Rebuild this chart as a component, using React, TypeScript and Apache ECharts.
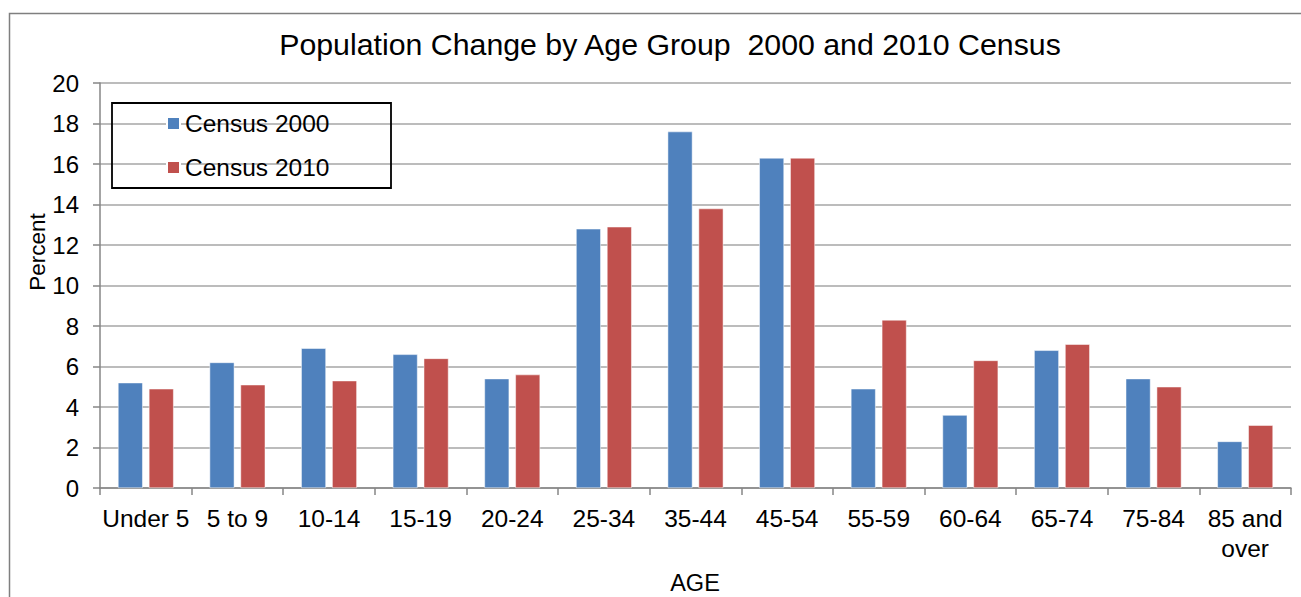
import React, { useEffect, useRef } from "react";
import * as echarts from "echarts";

const categories = ["Under 5", "5 to 9", "10-14", "15-19", "20-24", "25-34", "35-44", "45-54", "55-59", "60-64", "65-74", "75-84", "85 and\nover"];
const census2000 = [5.2, 6.2, 6.9, 6.6, 5.4, 12.8, 17.6, 16.3, 4.9, 3.6, 6.8, 5.4, 2.3];
const census2010 = [4.9, 5.1, 5.3, 6.4, 5.6, 12.9, 13.8, 16.3, 8.3, 6.3, 7.1, 5.0, 3.1];
const seriesNames = ["Census 2000", "Census 2010"];
const titleText = "Population Change by Age Group  2000 and 2010 Census";

const FONT = "'Liberation Sans', Arial, sans-serif";

export default function App() {
  const ref = useRef<HTMLDivElement>(null);
  useEffect(() => {
    if (!ref.current) return;
    const chart = echarts.init(ref.current, undefined, { renderer: "svg" });
    chart.setOption({
      animation: false,
      backgroundColor: "#ffffff",
      textStyle: { fontFamily: FONT },
      title: {
        text: titleText,
        left: 665,
        top: 24,
        textAlign: "center",
        textStyle: { fontFamily: FONT, fontSize: 30.3, fontWeight: "normal", color: "#000" },
      },
      legend: {
        orient: "vertical",
        left: 166,
        top: 111,
        itemWidth: 13,
        itemHeight: 13,
        itemGap: 19,
        padding: 0,
        icon: "rect",
        data: seriesNames,
        textStyle: { fontFamily: FONT, fontSize: 24.5, color: "#000", lineHeight: 23, padding: [0, 0, 0, 0] },
      },
      grid: { left: 100, right: 10, top: 83, bottom: 109, containLabel: false },
      xAxis: {
        type: "category",
        data: categories,
        boundaryGap: true,
        axisLine: { show: true, lineStyle: { color: "#868686", width: 1.5 } },
        axisTick: { show: true, interval: 0, length: 7, lineStyle: { color: "#868686", width: 1.5 } },
        axisLabel: { interval: 0, margin: 15, fontSize: 24.5, color: "#000", fontFamily: FONT, lineHeight: 30 },
        splitLine: { show: false },
      },
      yAxis: {
        type: "value",
        min: 0,
        max: 20,
        interval: 2,
        axisLine: { show: true, lineStyle: { color: "#868686", width: 1.5 } },
        axisTick: { show: true, length: 7, lineStyle: { color: "#868686", width: 1.5 } },
        axisLabel: { margin: 21, fontSize: 24, color: "#000", fontFamily: FONT },
        splitLine: { show: true, lineStyle: { color: "#a6a6a6", width: 1.5 } },
      },
      series: [
        {
          name: seriesNames[0],
          type: "bar",
          data: census2000,
          barWidth: "27%",
          barGap: "25%",
          itemStyle: { color: "#4f81bd", borderColor: "#ffffff", borderWidth: 0.5 },
        },
        {
          name: seriesNames[1],
          type: "bar",
          data: census2010,
          barWidth: "27%",
          barGap: "25%",
          itemStyle: { color: "#c0504d", borderColor: "#ffffff", borderWidth: 0.5 },
        },
      ],
      graphic: [
        {
          type: "rect",
          shape: { x: 9.5, y: 13.5, width: 1400, height: 700 },
          style: { fill: "none", stroke: "#7f7f7f", lineWidth: 1.5 },
          silent: true,
        },
        {
          type: "rect",
          shape: { x: 112, y: 103, width: 279, height: 85 },
          style: { fill: "none", stroke: "#000", lineWidth: 1.8 },
          silent: true,
          z: 10,
        },
        {
          type: "text",
          x: 37.5,
          y: 252,
          rotation: Math.PI / 2,
          style: { text: "Percent", fontFamily: FONT, fontSize: 22.5, fill: "#000", align: "center", verticalAlign: "middle" },
        },
        {
          type: "text",
          x: 695,
          y: 583,
          style: { text: "AGE", fontFamily: FONT, fontSize: 23.5, fill: "#000", align: "center", verticalAlign: "middle" },
        },
      ],
    });
    return () => chart.dispose();
  }, []);
  return (
    <div style={{ position: "absolute", left: 0, top: 0, width: 1301, height: 597 }}>
      <div ref={ref} style={{ width: 1301, height: 597 }} />
    </div>
  );
}
